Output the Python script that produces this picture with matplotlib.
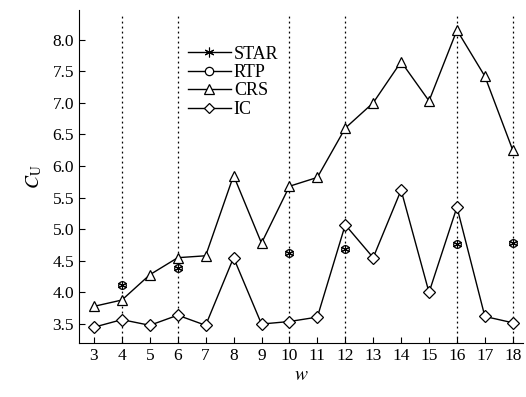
import matplotlib.pyplot as plt
from matplotlib.lines import Line2D

plt.rcParams['font.family'] = ['Liberation Serif', 'DejaVu Serif']
plt.rcParams['mathtext.fontset'] = 'stix'

w = list(range(3, 19))
crs = [3.78, 3.88, 4.28, 4.55, 4.58, 5.85, 4.78, 5.68, 5.82, 6.60, 7.00, 7.65, 7.03, 8.15, 7.42, 6.25]
ic = [3.45, 3.57, 3.48, 3.64, 3.48, 4.55, 3.50, 3.54, 3.61, 5.07, 4.55, 5.62, 4.00, 5.35, 3.62, 3.52]

# STAR and RTP only at selected w
w_sel = [4, 6, 10, 12, 16, 18]
star = [4.12, 4.38, 4.62, 4.68, 4.76, 4.79]
rtp = [4.12, 4.38, 4.62, 4.68, 4.76, 4.79]

fig, ax = plt.subplots(figsize=(5.26, 3.97), dpi=100)
fig.subplots_adjust(left=0.150, right=0.994, bottom=0.136, top=0.975)

for x in w_sel:
    ax.plot([x, x], [3.2, 8.40], color='black', linestyle=(0, (1.5, 2.5)), linewidth=0.9, zorder=1)

ax.plot(w_sel, star, linestyle='none', marker=(6, 2, 0), markersize=6.5,
        color='black', markeredgewidth=0.8, zorder=4)
ax.plot(w_sel, rtp, linestyle='none', marker='o', markersize=5.5,
        markerfacecolor='white', markeredgecolor='black', markeredgewidth=0.9, zorder=3)
ax.plot(w, crs, color='black', lw=1, marker='^', markersize=7.5, markerfacecolor='white',
        markeredgewidth=0.9, zorder=2)
ax.plot(w, ic, color='black', lw=1, marker='D', markersize=6, markerfacecolor='white',
        markeredgewidth=0.9, zorder=2)

# legend handles with lines
handles = [
    Line2D([], [], color='black', lw=1, marker=(6, 2, 0), markersize=7, markeredgewidth=0.8),
    Line2D([], [], color='black', lw=1, marker='o', markersize=6, markerfacecolor='white', markeredgewidth=0.9),
    Line2D([], [], color='black', lw=1, marker='^', markersize=7, markerfacecolor='white', markeredgewidth=0.9),
    Line2D([], [], color='black', lw=1, marker='D', markersize=5.5, markerfacecolor='white', markeredgewidth=0.9),
]
ax.legend(handles, ['STAR', 'RTP', 'CRS', 'IC'], loc='upper left', bbox_to_anchor=(0.225, 0.92),
          frameon=False, fontsize=13, handlelength=2.4, handletextpad=0.15,
          labelspacing=0.08, borderpad=0)

ax.set_xlim(2.46, 18.36)
ax.set_ylim(3.2, 8.47)
ax.set_xticks(w)
ax.set_yticks([3.5, 4.0, 4.5, 5.0, 5.5, 6.0, 6.5, 7.0, 7.5, 8.0])
ax.set_yticklabels(['3.5', '4.0', '4.5', '5.0', '5.5', '6.0', '6.5', '7.0', '7.5', '8.0'])
ax.tick_params(direction='in', labelsize=12.5, length=4, width=0.8)
ax.spines['top'].set_visible(False)
ax.spines['right'].set_visible(False)
ax.set_xlabel(r'$w$', fontsize=14, labelpad=2)
ax.set_ylabel(r'$C_{\mathrm{U}}$', fontsize=14, labelpad=6)

fig.savefig('out.png', dpi=100)
